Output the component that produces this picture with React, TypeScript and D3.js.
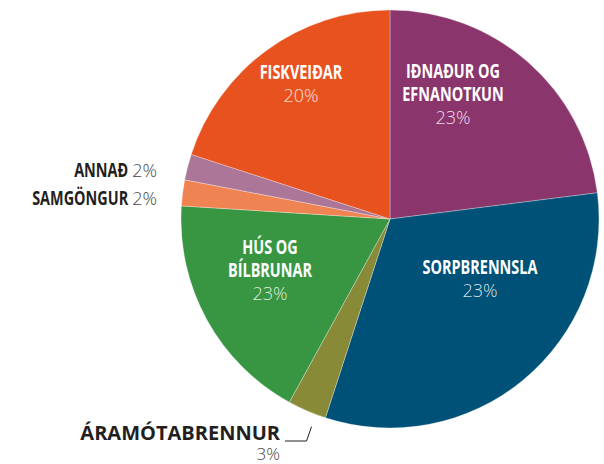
import React, { useEffect, useRef } from 'react';
import * as d3 from 'd3';

// slice order is clockwise from 12 o'clock
const categories = ['Iðnaður og efnanotkun', 'Sorpbrennsla', 'Áramótabrennur', 'Hús og bílbrunar', 'Samgöngur', 'Annað', 'Fiskveiðar'];
const shares = [23, 32, 3, 18, 2, 2, 20];
const percentLabels = ['23%', '23%', '3%', '23%', '2%', '2%', '20%'];
const labelLines = [['IÐNAÐUR OG', 'EFNANOTKUN'], ['SORPBRENNSLA'], ['ÁRAMÓTABRENNUR'], ['HÚS OG', 'BÍLBRUNAR'], ['SAMGÖNGUR'], ['ANNAÐ'], ['FISKVEIÐAR']];
const colors = ['#8a356c', '#005177', '#888a37', '#389642', '#ef8452', '#ab7698', '#e8521f'];

// label placement: inside = centred in slice, side = right-aligned left of pie, below = under pie
const layout = [
  { mode: 'inside', x: 453, y: 78 },
  { mode: 'inside', x: 480, y: 274 },
  { mode: 'below', x: 280, y: 440 },
  { mode: 'inside', x: 270, y: 254 },
  { mode: 'side', x: 157, y: 205 },
  { mode: 'side', x: 157, y: 177 },
  { mode: 'inside', x: 301, y: 79 },
];

const W = 604;
const H = 464;
const SQUEEZE = 0.76; // the bold label face in the original is a condensed cut

const App = () => {
  const svgRef = useRef<SVGSVGElement>(null);

  useEffect(() => {
    const svg = d3.select(svgRef.current);
    svg.selectAll('*').remove();

    const cx = 390, cy = 219, r = 209;
    const data = categories.map((c, i) => ({ c, v: shares[i], i }));
    const pie = d3.pie<any>().value(d => d.v).sort(null).startAngle(0).endAngle(2 * Math.PI);
    const arcs = pie(data);
    const arc = d3.arc<any>().innerRadius(0).outerRadius(r);

    const g = svg.append('g').attr('transform', `translate(${cx},${cy})`);
    g.selectAll('path')
      .data(arcs)
      .enter()
      .append('path')
      .attr('d', arc)
      .attr('fill', d => colors[d.data.i])
      .attr('stroke', '#fff')
      .attr('stroke-opacity', 0.5)
      .attr('stroke-width', 0.6);

    const font = "'Open Sans', sans-serif";
    const lh = 23;

    const condensed = (x: number, y: number, t: string, anchor: string, fill: string) =>
      svg.append('g')
        .attr('transform', `translate(${x},${y}) scale(${SQUEEZE},1)`)
        .append('text')
        .attr('text-anchor', anchor)
        .attr('font-family', font).attr('font-weight', 700).attr('font-size', 19)
        .attr('fill', fill)
        .text(t);

    layout.forEach((p, i) => {
      const lines = labelLines[i];
      if (p.mode === 'inside') {
        lines.forEach((t, k) => condensed(p.x, p.y + k * lh, t, 'middle', '#fff'));
        svg.append('text')
          .attr('x', p.x).attr('y', p.y + lines.length * lh)
          .attr('text-anchor', 'middle')
          .attr('font-family', font).attr('font-weight', 300).attr('font-size', 18)
          .attr('fill', '#fff').attr('fill-opacity', 0.85)
          .text(percentLabels[i]);
      } else if (p.mode === 'side') {
        const pct = svg.append('text')
          .attr('x', p.x).attr('y', p.y)
          .attr('text-anchor', 'end')
          .attr('font-family', font).attr('font-weight', 300).attr('font-size', 18)
          .attr('fill', '#444')
          .text(percentLabels[i]);
        const w = (pct.node() as SVGTextElement).getComputedTextLength();
        condensed(p.x - w - 4, p.y, lines[0], 'end', '#231f20');
      } else {
        svg.append('text')
          .attr('x', p.x).attr('y', p.y)
          .attr('text-anchor', 'end')
          .attr('font-family', font).attr('font-weight', 700).attr('font-size', 20)
          .attr('fill', '#231f20')
          .text(lines[0]);
        svg.append('text')
          .attr('x', p.x).attr('y', p.y + 20)
          .attr('text-anchor', 'end')
          .attr('font-family', font).attr('font-weight', 300).attr('font-size', 17)
          .attr('fill', '#444')
          .text(percentLabels[i]);
        // leader towards the slice edge
        const a = arcs[i];
        const ang = a.startAngle + (a.endAngle - a.startAngle) * 0.25;
        const ex = cx + Math.sin(ang) * (r + 13);
        const ey = cy - Math.cos(ang) * (r + 13);
        svg.append('path')
          .attr('d', `M${p.x + 5},${p.y + 1} H${ex - 5} L${ex},${ey}`)
          .attr('fill', 'none')
          .attr('stroke', '#231f20')
          .attr('stroke-width', 1);
      }
    });
  }, []);

  return (
    <svg ref={svgRef} width={W} height={H} style={{ display: 'block', position: 'absolute', left: 0, top: 0 }} />
  );
};

export default App;
